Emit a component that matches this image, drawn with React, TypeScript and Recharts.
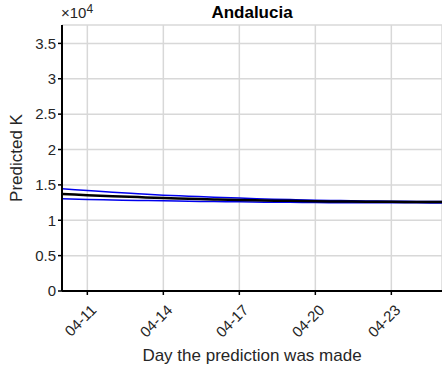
import React from 'react';
import { LineChart, Line, XAxis, YAxis, CartesianGrid, Label } from 'recharts';

// prediction day (April) and predicted K
const days = [10, 11, 12, 13, 14, 15, 16, 17, 18, 19, 20, 21, 22, 23, 24, 25];
const meanK = [13700, 13550, 13400, 13270, 13150, 13050, 12950, 12870, 12800, 12740, 12690, 12650, 12620, 12600, 12580, 12570];
const upperK = [14450, 14200, 13950, 13750, 13550, 13400, 13250, 13130, 13020, 12920, 12840, 12780, 12730, 12690, 12660, 12640];
const lowerK = [13050, 12950, 12870, 12800, 12740, 12690, 12640, 12600, 12560, 12530, 12500, 12480, 12470, 12460, 12460, 12450];
const xTicks = [11, 14, 17, 20, 23];
const yTicks = [0, 5000, 10000, 15000, 20000, 25000, 30000, 35000];

const data = days.map((d, i) => ({ day: d, mean: meanK[i], upper: upperK[i], lower: lowerK[i] }));

const FONT = 'Liberation Sans, Arial, sans-serif';

const DateTick = (props: any) => {
  const { x, y, payload } = props;
  const label = `04-${String(payload.value).padStart(2, '0')}`;
  const ax = x + 10;
  const ay = y + 14;
  return (
    <text x={ax} y={ay} transform={`rotate(-45, ${ax}, ${ay})`} textAnchor="end" fontSize={15} fontFamily={FONT} fill="#262626">
      {label}
    </text>
  );
};

const App: React.FC = () => {
  return (
    <div style={{ position: 'absolute', left: 0, top: 0, width: 442, height: 367, background: '#fff', fontFamily: FONT }}>
      <div style={{ position: 'absolute', left: 0, width: 442, top: 3, textAlign: 'center', paddingLeft: 62, boxSizing: 'border-box' }}>
        <span style={{ fontSize: 17, fontWeight: 'bold', color: '#000', lineHeight: '20px' }}>Andalucia</span>
      </div>
      <div style={{ position: 'absolute', left: 61, top: 4, fontSize: 15, lineHeight: '18px', color: '#262626' }}>
        ×10<sup style={{ fontSize: 12, verticalAlign: 'top', position: 'relative', top: -4 }}>4</sup>
      </div>
      <LineChart width={442} height={367} data={data} margin={{ top: 25, right: 0, bottom: 0, left: 0 }}>
        <CartesianGrid stroke="#d8d8d8" strokeWidth={1.5} vertical horizontal />
        <XAxis
          dataKey="day"
          type="number"
          domain={[10, 25]}
          ticks={xTicks}
          allowDataOverflow
          height={76}
          tick={<DateTick />}
          tickSize={4}
          axisLine={{ stroke: '#000', strokeWidth: 2 }}
          tickLine={{ stroke: '#000', strokeWidth: 1.5 }}
        >
          <Label value="Day the prediction was made" position="insideBottom" offset={6} style={{ fontSize: 17, fill: '#262626', fontFamily: FONT }} />
        </XAxis>
        <YAxis
          type="number"
          domain={[0, 37600]}
          ticks={yTicks}
          allowDataOverflow
          width={62}
          tickSize={4}
          tickFormatter={(v: number) => String(v / 10000)}
          tick={{ fontSize: 15, fill: '#262626', fontFamily: FONT }}
          axisLine={{ stroke: '#000', strokeWidth: 2 }}
          tickLine={{ stroke: '#000', strokeWidth: 1.5 }}
        >
          <Label value="Predicted K" angle={-90} position="insideLeft" offset={16} style={{ fontSize: 17, fill: '#262626', fontFamily: FONT, textAnchor: 'middle' }} />
        </YAxis>
        <Line type="monotone" dataKey="upper" stroke="#0000ee" strokeWidth={1.5} dot={false} isAnimationActive={false} />
        <Line type="monotone" dataKey="lower" stroke="#0000ee" strokeWidth={1.5} dot={false} isAnimationActive={false} />
        <Line type="monotone" dataKey="mean" stroke="#000" strokeWidth={2.5} dot={false} isAnimationActive={false} />
      </LineChart>
    </div>
  );
};

export default App;
